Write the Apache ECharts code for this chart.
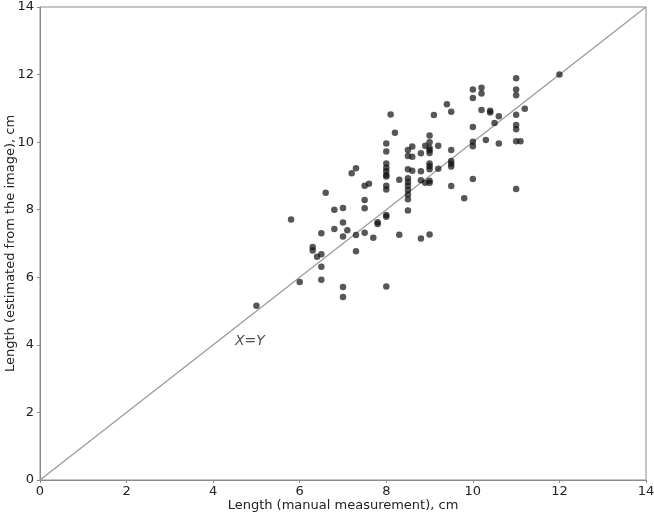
<!DOCTYPE html>
<html>
<head>
<meta charset="utf-8">
<script src="https://cdn.jsdelivr.net/npm/echarts@6/dist/echarts.min.js"></script>
<style>
  html, body { margin: 0; padding: 0; background: #fff; }
  #chart { width: 654px; height: 516px; }
</style>
</head>
<body>
<div id="chart"></div>
<script>
// manual measurement (x) and image estimate (y), cm
const manualLen = [
  5.0, 5.8, 6.0, 6.3, 6.3, 6.4, 6.5, 6.5, 6.5, 6.5, 6.6, 6.8, 6.8,
  7.0, 7.0, 7.0, 7.0, 7.0, 7.1, 7.2, 7.3, 7.3, 7.3,
  7.5, 7.5, 7.5, 7.5, 7.6, 7.7, 7.8, 7.8,
  8.0, 8.0, 8.0, 8.0, 8.0, 8.0, 8.0, 8.0, 8.0, 8.0, 8.0, 8.0,
  8.1, 8.2, 8.3, 8.3,
  8.5, 8.5, 8.5, 8.5, 8.5, 8.5, 8.5, 8.5, 8.5, 8.5,
  8.6, 8.6, 8.6, 8.8, 8.8, 8.8, 8.8, 8.9, 8.9,
  9.0, 9.0, 9.0, 9.0, 9.0, 9.0, 9.0, 9.0, 9.0, 9.0, 9.0,
  9.1, 9.2, 9.2, 9.4, 9.5, 9.5, 9.5, 9.5, 9.5, 9.5, 9.8,
  10.0, 10.0, 10.0, 10.0, 10.0, 10.0, 10.2, 10.2, 10.2, 10.3, 10.4, 10.4,
  10.5, 10.6, 10.6,
  11.0, 11.0, 11.0, 11.0, 11.0, 11.0, 11.0, 11.0, 11.1, 11.2, 12.0
];
const imageLen = [
  5.16, 7.71, 5.86, 6.90, 6.79, 6.61, 6.68, 7.30, 6.31, 5.93, 8.50, 8.00, 7.43,
  8.05, 7.62, 7.21, 5.71, 5.42, 7.39, 9.08, 9.23, 7.25, 6.77,
  8.71, 8.29, 8.04, 7.32, 8.77, 7.17, 7.63, 7.58,
  9.96, 9.72, 9.37, 9.24, 9.14, 9.03, 8.98, 8.71, 8.60, 7.84, 7.79, 5.73,
  10.82, 10.28, 8.89, 7.26,
  9.77, 9.59, 9.20, 8.93, 8.82, 8.71, 8.58, 8.45, 8.31, 7.98,
  9.87, 9.57, 9.15, 9.67, 9.14, 8.87, 7.15, 9.89, 8.80,
  10.20, 10.00, 9.83, 9.76, 9.68, 9.37, 9.29, 9.20, 8.86, 8.80, 7.27,
  10.80, 9.89, 9.21, 11.12, 10.90, 9.77, 9.44, 9.36, 9.28, 8.70, 8.34,
  11.56, 11.31, 10.45, 10.01, 9.88, 8.91, 11.61, 11.44, 10.95, 10.06, 10.93, 10.88,
  10.57, 10.77, 9.96,
  11.89, 11.56, 11.39, 10.81, 10.51, 10.38, 10.03, 8.61, 10.03, 10.99, 12.00
];
const diagLine = [0, 14];
const diagLabel = 'X=Y';
const diagLabelAt = [4.85, 4.1];
const axisTicks = [0, 14, 2]; // min, max, step

const font = 'DejaVu Sans';
const axisGray = '#8c8c8c';

const points = manualLen.map((v, i) => [v, imageLen[i]]);

const axisCommon = {
  type: 'value',
  min: axisTicks[0],
  max: axisTicks[1],
  interval: axisTicks[2],
  axisLine: { show: true, lineStyle: { color: axisGray, width: 1 } },
  axisTick: { show: true, length: 3, lineStyle: { color: axisGray } },
  splitLine: { show: false },
  axisLabel: { color: '#222', fontSize: 13, fontFamily: font },
  nameLocation: 'middle',
  nameMoveOverlap: false,
  nameTextStyle: { color: '#222', fontSize: 13, fontFamily: font }
};

const chart = echarts.init(document.getElementById('chart'), null, { renderer: 'canvas' });
chart.setOption({
  animation: false,
  grid: {
    left: 40, right: 8, top: 7, bottom: 36,
    containLabel: false,
    outerBoundsMode: 'none',
    show: true, borderColor: axisGray, borderWidth: 1
  },
  xAxis: Object.assign({}, axisCommon, {
    name: 'Length (manual measurement), cm',
    nameGap: 19,
    axisLabel: Object.assign({}, axisCommon.axisLabel, { margin: 5 })
  }),
  yAxis: Object.assign({}, axisCommon, {
    name: 'Length (estimated from the image), cm',
    nameGap: 23,
    axisLabel: Object.assign({}, axisCommon.axisLabel, { margin: 6 })
  }),
  series: [
    {
      type: 'line',
      data: diagLine.map(v => [v, v]),
      symbol: 'none',
      silent: true,
      lineStyle: { color: '#999', width: 1.2 },
      z: 1
    },
    {
      type: 'scatter',
      data: points,
      symbolSize: 6.5,
      itemStyle: { color: 'rgba(15,15,15,0.88)' },
      z: 3
    },
    {
      type: 'scatter',
      data: [diagLabelAt],
      symbolSize: 0,
      silent: true,
      label: {
        show: true,
        formatter: diagLabel,
        position: 'inside',
        fontStyle: 'italic',
        fontSize: 14,
        fontFamily: font,
        color: '#222'
      }
    }
  ]
});
</script>
</body>
</html>
